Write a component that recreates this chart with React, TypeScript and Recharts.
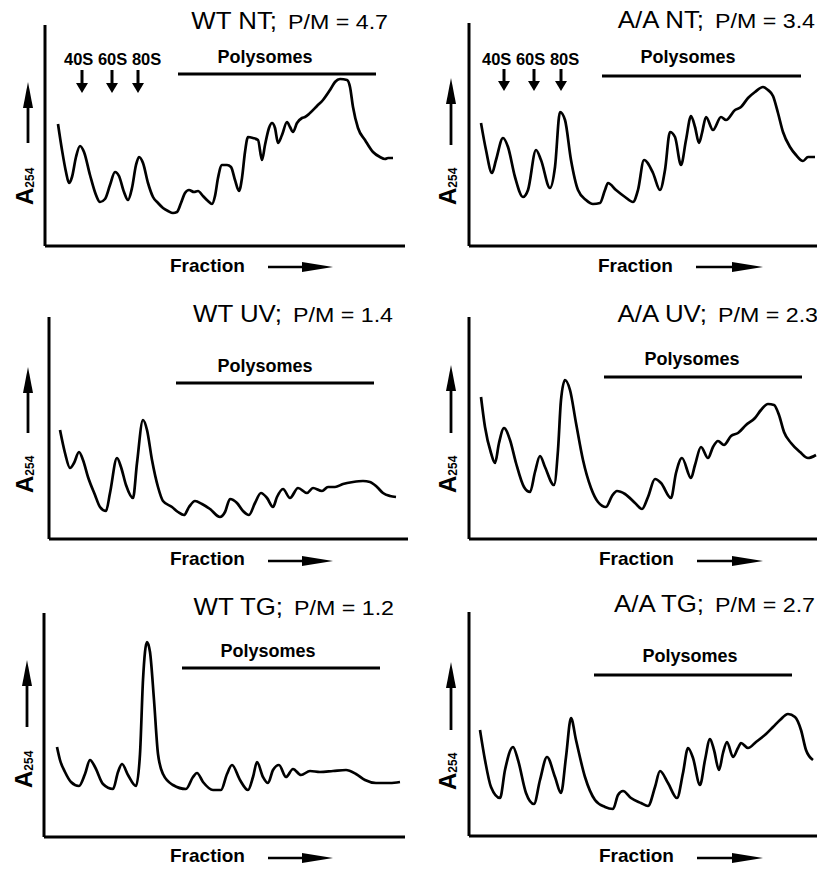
import React from 'react';
import { LineChart, Line, XAxis, YAxis } from 'recharts';

// sucrose-gradient traces: [fraction position, A254]
const wtNt: [number, number][] = [
  [13, 122], [17, 96], [21, 74], [24, 63], [27, 69], [31, 89], [35, 100], [39, 94], [45, 71], [51, 51],
  [55, 44], [60, 47], [65, 61], [70, 74], [74, 70], [79, 54], [83, 46], [87, 58], [91, 81], [94, 89],
  [98, 83], [103, 63], [108, 49], [113, 43], [118, 38], [123, 35], [128, 33], [132, 34], [136, 43], [140, 53],
  [144, 56], [149, 54], [153, 55], [158, 50], [163, 45], [167, 42], [170, 50], [173, 68], [177, 81], [182, 81],
  [186, 79], [190, 66], [194, 55], [197, 68], [200, 94], [203, 109], [208, 108], [213, 106], [217, 86], [220, 101],
  [224, 118], [227, 123], [230, 118], [233, 103], [237, 111], [242, 124], [245, 119], [248, 114], [252, 123], [257, 128],
  [260, 129], [265, 133], [272, 140], [278, 146], [285, 156], [290, 164], [295, 167], [302, 166], [305, 159], [308, 139],
  [313, 118], [320, 106], [328, 94], [335, 89], [340, 87], [343, 88], [348, 88],
];

const aaNt: [number, number][] = [
  [12, 123], [17, 96], [23, 73], [27, 86], [34, 108], [39, 99], [46, 69], [54, 49], [59, 56], [67, 96],
  [72, 86], [81, 58], [86, 79], [91, 134], [96, 126], [102, 86], [109, 56], [117, 46], [124, 42], [131, 43],
  [136, 56], [139, 63], [147, 56], [156, 49], [164, 44], [169, 56], [175, 86], [184, 73], [191, 56], [196, 76],
  [201, 114], [206, 109], [212, 81], [217, 106], [222, 130], [226, 119], [230, 103], [233, 113], [237, 129], [244, 116],
  [252, 129], [257, 126], [266, 136], [272, 139], [279, 148], [286, 154], [294, 159], [299, 156], [304, 150], [309, 133],
  [314, 114], [321, 99], [327, 91], [334, 85], [339, 89], [346, 89],
];

const wtUv: [number, number][] = [
  [11, 109], [16, 86], [21, 71], [25, 76], [30, 87], [34, 79], [39, 62], [46, 44], [51, 32], [57, 28],
  [61, 46], [68, 81], [72, 72], [77, 54], [84, 41], [88, 76], [94, 119], [98, 109], [103, 79], [109, 52],
  [114, 38], [123, 32], [129, 27], [135, 24], [140, 32], [146, 38], [153, 35], [161, 30], [171, 22], [176, 27],
  [181, 40], [188, 36], [194, 28], [200, 24], [206, 36], [212, 46], [218, 41], [224, 32], [228, 42], [234, 50],
  [241, 41], [249, 51], [258, 46], [264, 51], [273, 48], [279, 52], [286, 52], [294, 55], [304, 57], [314, 58],
  [321, 57], [328, 52], [334, 46], [341, 43], [347, 42],
];

const aaUv: [number, number][] = [
  [12, 142], [16, 112], [22, 86], [26, 76], [30, 96], [35, 111], [41, 99], [47, 76], [55, 52], [61, 47],
  [66, 67], [71, 83], [76, 72], [85, 54], [89, 89], [92, 139], [96, 159], [101, 149], [107, 116], [114, 79],
  [122, 51], [129, 37], [137, 32], [143, 43], [148, 48], [156, 45], [166, 36], [173, 30], [179, 42], [186, 60],
  [192, 56], [202, 41], [207, 66], [213, 81], [222, 61], [226, 74], [232, 92], [239, 81], [244, 92], [249, 98],
  [255, 94], [262, 103], [269, 106], [277, 114], [286, 121], [292, 129], [299, 135], [305, 134], [310, 124], [315, 107],
  [322, 96], [331, 87], [339, 81], [347, 84],
];

const wtTg: [number, number][] = [
  [13, 90], [16, 77], [21, 65], [27, 55], [35, 51], [41, 63], [46, 77], [51, 70], [59, 53], [69, 48],
  [74, 65], [78, 73], [84, 62], [92, 51], [96, 83], [99, 157], [103, 195], [106, 185], [110, 137], [114, 83],
  [119, 63], [129, 52], [142, 48], [149, 60], [153, 64], [159, 55], [169, 47], [177, 47], [183, 63], [188, 72],
  [196, 57], [204, 47], [209, 60], [213, 75], [219, 60], [224, 54], [229, 67], [235, 72], [242, 60], [249, 68],
  [257, 62], [266, 66], [276, 65], [289, 66], [302, 67], [312, 63], [321, 57], [332, 54], [346, 54], [356, 55],
];

const aaTg: [number, number][] = [
  [11, 106], [16, 76], [22, 49], [31, 38], [36, 66], [44, 89], [49, 76], [57, 43], [65, 32], [71, 56],
  [78, 79], [86, 59], [92, 43], [97, 79], [102, 118], [107, 96], [116, 59], [126, 36], [136, 29], [144, 27],
  [149, 41], [154, 45], [162, 38], [172, 33], [179, 30], [186, 49], [191, 65], [199, 53], [208, 38], [214, 63],
  [219, 88], [224, 78], [231, 51], [236, 76], [241, 97], [245, 86], [250, 66], [254, 83], [258, 94], [264, 79],
  [269, 88], [272, 93], [279, 88], [287, 94], [297, 102], [304, 109], [311, 116], [319, 122], [326, 119], [332, 106],
  [337, 86], [344, 76],
];

const titles = ['WT NT;', 'A/A NT;', 'WT UV;', 'A/A UV;', 'WT TG;', 'A/A TG;'];
const ratios = ['4.7', '3.4', '1.4', '2.3', '1.2', '2.7'];
const traces = [wtNt, aaNt, wtUv, aaUv, wtTg, aaTg];
const subunits = ['40S', '60S', '80S'];

// page layout of each panel (pixels)
const layout = [
  { ax: 45, top: 25, bottom: 246, right: 405, tR: 388, tB: 29, pC: 265, pB: 63, p1: 178, p2: 376, pY: 74,
    sub: { x: 64, b: 65, arrows: [82, 112, 138], aT: 70, aB: 93 }, uX: 28, uT: 82, uB: 143, aX: 33, aY: 205,
    fX: 170, fB: 272, r1: 268, r2: 333, rY: 267 },
  { ax: 469, top: 23, bottom: 246, right: 817, tR: 815, tB: 28, pC: 688, pB: 63, p1: 602, p2: 801, pY: 76,
    sub: { x: 482, b: 65, arrows: [504, 534, 561], aT: 69, aB: 91 }, uX: 451, uT: 78, uB: 145, aX: 456, aY: 205,
    fX: 598, fB: 272, r1: 696, r2: 763, rY: 267 },
  { ax: 49, top: 317, bottom: 539, right: 408, tR: 393, tB: 322, pC: 265, pB: 372, p1: 176, p2: 374, pY: 383,
    sub: null, uX: 28, uT: 367, uB: 433, aX: 33, aY: 493, fX: 170, fB: 565, r1: 268, r2: 333, rY: 561 },
  { ax: 469, top: 317, bottom: 539, right: 817, tR: 818, tB: 322, pC: 692, pB: 365, p1: 604, p2: 802, pY: 377,
    sub: null, uX: 451, uT: 365, uB: 433, aX: 456, aY: 493, fX: 599, fB: 565, r1: 697, r2: 763, rY: 561 },
  { ax: 44, top: 613, bottom: 837, right: 405, tR: 394, tB: 615, pC: 268, pB: 657, p1: 182, p2: 380, pY: 668,
    sub: null, uX: 27, uT: 660, uB: 727, aX: 32, aY: 788, fX: 170, fB: 862, r1: 268, r2: 333, rY: 858 },
  { ax: 469, top: 612, bottom: 836, right: 817, tR: 815, tB: 612, pC: 690, pB: 662, p1: 594, p2: 792, pY: 675,
    sub: null, uX: 451, uT: 662, uB: 730, aX: 456, aY: 790, fX: 599, fB: 862, r1: 697, r2: 763, rY: 858 },
];

const FONT = '"Liberation Sans", Arial, sans-serif';
const PAD = 6;

function Trace({ i }: { i: number }) {
  const L = layout[i];
  const w = L.right - L.ax;
  const h = L.bottom - L.top;
  const data = traces[i].map(([x, y]) => ({ x, y }));
  return (
    <div style={{ position: 'absolute', left: L.ax - PAD - 1, top: L.top - PAD }}>
      <LineChart width={w + PAD * 2 + 1} height={h + PAD * 2 + 1} data={data}
        margin={{ top: PAD, right: PAD, bottom: PAD, left: PAD }}>
        <XAxis type="number" dataKey="x" domain={[0, w]} allowDataOverflow height={1}
          tick={false} tickLine={false} axisLine={{ stroke: '#000', strokeWidth: 3 }} />
        <YAxis type="number" domain={[0, h]} allowDataOverflow width={1}
          tick={false} tickLine={false} axisLine={{ stroke: '#000', strokeWidth: 3 }} />
        <Line type="monotone" dataKey="y" stroke="#000" strokeWidth={2.7} dot={false}
          isAnimationActive={false} />
      </LineChart>
    </div>
  );
}

function Notes({ i }: { i: number }) {
  const L = layout[i];
  return (
    <g fontFamily={FONT} fill="#000">
      <text transform={`translate(${L.tR - 111},${L.tB}) scale(1.1,1)`} textAnchor="end" fontSize={23.5}>{titles[i]}</text>
      <text x={L.tR - 100} y={L.tB} fontSize={20} textLength={100} lengthAdjust="spacingAndGlyphs">{`P/M = ${ratios[i]}`}</text>
      <text x={L.pC} y={L.pB} textAnchor="middle" fontSize={18} fontWeight="bold">Polysomes</text>
      <line x1={L.p1} x2={L.p2} y1={L.pY} y2={L.pY} stroke="#000" strokeWidth={2.8} />
      {L.sub && (
        <g>
          <text x={L.sub.x} y={L.sub.b} fontSize={16.5} fontWeight="bold">{subunits.join(' ')}</text>
          {L.sub.arrows.map((ax) => (
            <g key={ax}>
              <line x1={ax} x2={ax} y1={L.sub!.aT} y2={L.sub!.aB - 8} stroke="#000" strokeWidth={3} />
              <polygon points={`${ax - 6},${L.sub!.aB - 10} ${ax + 6},${L.sub!.aB - 10} ${ax},${L.sub!.aB}`} />
            </g>
          ))}
        </g>
      )}
      <line x1={L.uX} x2={L.uX} y1={L.uT + 20} y2={L.uB} stroke="#000" strokeWidth={2.8} />
      <polygon points={`${L.uX - 5},${L.uT + 26} ${L.uX + 5},${L.uT + 26} ${L.uX},${L.uT}`} />
      <text transform={`translate(${L.aX},${L.aY}) rotate(-90)`} fontWeight="bold">
        <tspan fontSize={24}>A</tspan>
        <tspan fontSize={12} dy={1}>254</tspan>
      </text>
      <text x={L.fX} y={L.fB} fontSize={19} fontWeight="bold">Fraction</text>
      <line x1={L.r1} x2={L.r2 - 20} y1={L.rY} y2={L.rY} stroke="#000" strokeWidth={2.5} />
      <polygon points={`${L.r2 - 31},${L.rY - 5} ${L.r2 - 31},${L.rY + 5} ${L.r2},${L.rY}`} />
    </g>
  );
}

export default function App() {
  return (
    <div style={{ position: 'absolute', left: 0, top: 0, width: 817, height: 869, overflow: 'hidden', background: '#fff' }}>
      {traces.map((_, i) => <Trace key={i} i={i} />)}
      <svg width={817} height={869} style={{ position: 'absolute', left: 0, top: 0, pointerEvents: 'none' }}>
        {traces.map((_, i) => <Notes key={i} i={i} />)}
      </svg>
    </div>
  );
}
